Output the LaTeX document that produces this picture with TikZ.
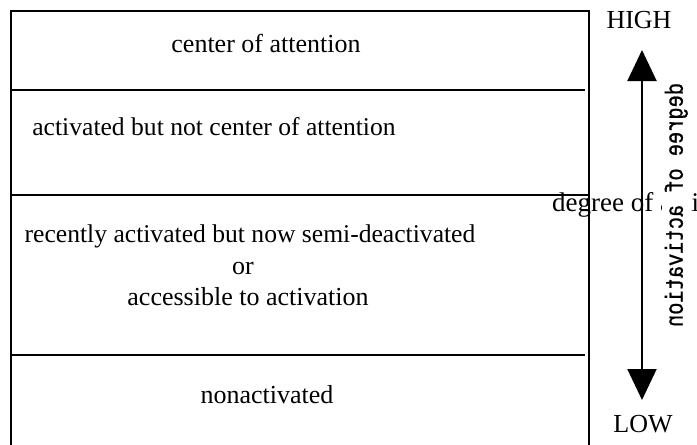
\documentclass[tikz,border=0pt]{standalone}
\usepackage{fontspec}
\setmainfont{Liberation Serif}
\newfontfamily\axismono{Liberation Mono}[FakeBold=1]
\usetikzlibrary{arrows.meta}

\begin{document}
\begin{tikzpicture}[x=1pt, y=-1pt,
  frame/.style={line width=2pt, line join=miter},
  rowtext/.style={font=\fontsize{26}{30}\selectfont, inner sep=0pt, anchor=base},
  bigtip/.tip={Triangle[length=31pt, width=29pt]},
  scale arrow/.style={line width=2pt, bigtip-bigtip}]
\useasboundingbox (0,0) rectangle (697,445);
\clip (0,0) rectangle (697,445);

% outer frame, open at the bottom
\draw[frame] (11,460) -- (11,11) -- (589,11) -- (589,460);
% band dividers
\draw[frame] (11,90) -- (585,90);
\draw[frame] (11,194.5) -- (589,194.5);
\draw[frame] (11,354.5) -- (585,354.5);

% band labels
\node[rowtext] (attn) at (266,52) {center of attention};
\node[rowtext, font=\fontsize{25.6}{30}\selectfont] (act) at (214,135) {activated but not center of attention};
\node[rowtext, font=\fontsize{25.6}{30}\selectfont] (semi) at (250,242) {recently activated but now semi-deactivated};
\node[rowtext] (or) at (243,274) {or};
\node[rowtext] (acc) at (248,305) {accessible to activation};
\node[rowtext] (non) at (267,403) {nonactivated};

% horizontal axis caption, partly hidden by the vertical one
\node[rowtext, anchor=base west, font=\fontsize{27}{30}\selectfont] (hcap) at (552,211) {degree of activation};

% scale arrow with its end labels
\coordinate (hi) at (642,50);
\coordinate (lo) at (642,400);
\draw[scale arrow] (lo) -- (hi);
\node[rowtext] (high) at (639,28) {HIGH};
\node[rowtext] (low) at (643,432) {LOW};

% vertical axis caption on a white strip
\node[fill=white, inner sep=0pt, minimum width=28.5pt, minimum height=250pt] (vcap) at (676.3,205)
  {\reflectbox{\rotatebox{-90}{\resizebox*{244pt}{23pt}{\axismono degree of activation}}}};
\end{tikzpicture}
\end{document}
